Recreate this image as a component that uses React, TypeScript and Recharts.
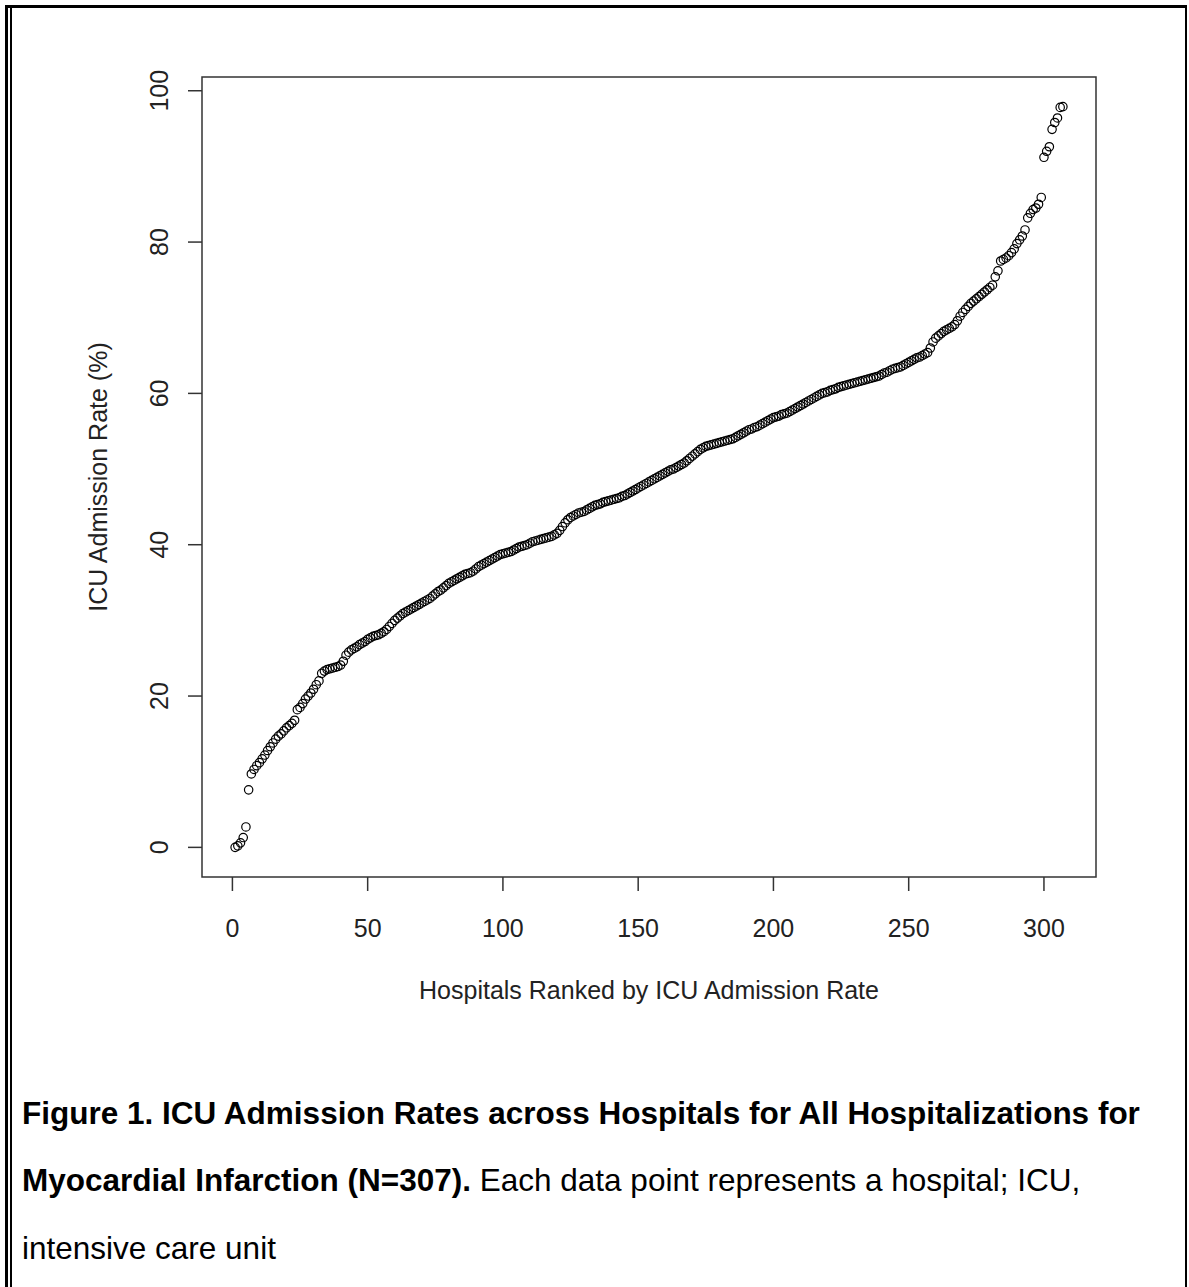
import React from 'react';
import { ScatterChart, Scatter, XAxis, YAxis, ReferenceArea } from 'recharts';

const icuRates: number[] = [
  0.0, 0.2, 0.6, 1.3, 2.7, 7.6, 9.7, 10.3, 10.8, 11.2,
  11.7, 12.2, 12.8, 13.3, 13.8, 14.3, 14.7, 15.0, 15.4, 15.8,
  16.1, 16.4, 16.8, 18.2, 18.5, 19.0, 19.6, 20.0, 20.4, 20.9,
  21.5, 22.0, 23.0, 23.3, 23.5, 23.6, 23.7, 23.8, 23.9, 24.1,
  24.6, 25.4, 25.8, 26.1, 26.3, 26.5, 26.8, 27.0, 27.2, 27.5,
  27.7, 27.9, 28.0, 28.1, 28.3, 28.5, 28.8, 29.2, 29.6, 30.0,
  30.3, 30.6, 30.9, 31.1, 31.3, 31.5, 31.7, 31.9, 32.1, 32.3,
  32.5, 32.7, 32.9, 33.2, 33.5, 33.8, 34.0, 34.3, 34.6, 34.9,
  35.1, 35.3, 35.5, 35.7, 35.9, 36.1, 36.2, 36.3, 36.5, 36.8,
  37.1, 37.3, 37.5, 37.7, 37.9, 38.1, 38.3, 38.5, 38.7, 38.8,
  38.9, 39.0, 39.1, 39.3, 39.5, 39.7, 39.8, 39.9, 40.0, 40.2,
  40.4, 40.5, 40.6, 40.7, 40.8, 40.9, 41.0, 41.1, 41.3, 41.5,
  41.9, 42.4, 42.9, 43.3, 43.6, 43.8, 44.0, 44.2, 44.3, 44.4,
  44.6, 44.8, 45.0, 45.2, 45.3, 45.4, 45.6, 45.7, 45.8, 45.9,
  46.0, 46.1, 46.2, 46.4, 46.5, 46.7, 46.9, 47.1, 47.3, 47.5,
  47.7, 47.9, 48.1, 48.3, 48.5, 48.7, 48.9, 49.1, 49.3, 49.5,
  49.7, 49.9, 50.0, 50.2, 50.4, 50.6, 50.8, 51.1, 51.4, 51.7,
  52.0, 52.3, 52.6, 52.8, 53.0, 53.1, 53.2, 53.3, 53.4, 53.5,
  53.6, 53.7, 53.8, 53.9, 54.0, 54.2, 54.4, 54.6, 54.8, 55.0,
  55.2, 55.3, 55.5, 55.6, 55.8, 56.0, 56.2, 56.4, 56.6, 56.8,
  56.9, 57.0, 57.2, 57.3, 57.4, 57.6, 57.8, 58.0, 58.2, 58.4,
  58.6, 58.8, 59.0, 59.2, 59.4, 59.6, 59.8, 60.0, 60.1, 60.2,
  60.4, 60.5, 60.6, 60.8, 60.9, 61.0, 61.1, 61.2, 61.3, 61.4,
  61.5, 61.6, 61.7, 61.8, 61.9, 62.0, 62.1, 62.2, 62.3, 62.5,
  62.7, 62.8, 63.0, 63.2, 63.3, 63.4, 63.5, 63.7, 63.9, 64.1,
  64.3, 64.5, 64.7, 64.8, 65.0, 65.2, 65.4, 66.0, 66.8, 67.3,
  67.6, 67.9, 68.2, 68.4, 68.6, 68.8, 69.1, 69.6, 70.2, 70.7,
  71.1, 71.5, 71.9, 72.2, 72.5, 72.8, 73.1, 73.4, 73.7, 74.0,
  74.3, 75.4, 76.2, 77.5, 77.7, 77.9, 78.2, 78.6, 79.1, 79.8,
  80.3, 80.8, 81.6, 83.2, 83.8, 84.3, 84.5, 85.0, 85.9, 91.2,
  92.0, 92.6, 94.9, 95.8, 96.4, 97.8, 97.9,
];

const xTicks: number[] = [0, 50, 100, 150, 200, 250, 300];
const yTicks: number[] = [0, 20, 40, 60, 80, 100];

const xTitle = 'Hospitals Ranked by ICU Admission Rate';
const yTitle = 'ICU Admission Rate (%)';
const captionBold1 = 'Figure 1. ICU Admission Rates across Hospitals for All Hospitalizations for';
const captionBold2 = 'Myocardial Infarction (N=307).';
const captionReg2 = ' Each data point represents a hospital; ICU,';
const captionReg3 = 'intensive care unit';

const data = icuRates.map((v, i) => ({ rank: i + 1, rate: v }));

const FONT = '"Liberation Sans", Arial, Helvetica, sans-serif';
const AXIS_FONT_SIZE = 25;
const TEXT_COLOR = '#222';

// R-style extended ranges (4% padding)
const X_DOMAIN: [number, number] = [-11.24, 319.24];
const Y_DOMAIN: [number, number] = [-3.916, 101.816];

const W = 1189;
const H = 1287;
const PLOT_LEFT = 202;
const PLOT_TOP = 77;
const PLOT_RIGHT = 1096;
const PLOT_BOTTOM = 877;
const Y_AXIS_W = 60;
const X_AXIS_H = 60;

const XTick = (props: any) => {
  const { x, payload } = props;
  return (
    <text x={x} y={937} textAnchor="middle" fontFamily={FONT} fontSize={AXIS_FONT_SIZE} fill={TEXT_COLOR}>
      {payload.value}
    </text>
  );
};

const YTick = (props: any) => {
  const { y, payload } = props;
  return (
    <text
      x={0}
      y={0}
      transform={`translate(168, ${y}) rotate(-90)`}
      textAnchor="middle"
      fontFamily={FONT}
      fontSize={AXIS_FONT_SIZE}
      fill={TEXT_COLOR}
    >
      {payload.value}
    </text>
  );
};

const OpenCircle = (props: any) => {
  const { cx, cy } = props;
  if (cx == null || cy == null) return null;
  return <circle cx={cx} cy={cy} r={4.2} fill="none" stroke="#000" strokeWidth={1.2} />;
};

export default function App() {
  return (
    <div style={{ position: 'absolute', left: 0, top: 0, width: W, height: H, background: '#fff', overflow: 'hidden' }}>
      {/* page frame */}
      <div style={{ position: 'absolute', left: 5, top: 5, width: 1182, height: 3, background: '#000' }} />
      <div style={{ position: 'absolute', left: 5, top: 5, width: 3, height: H - 5, background: '#000' }} />
      <div style={{ position: 'absolute', left: 10, top: 8, width: 1.5, height: H - 8, background: '#000' }} />
      <div style={{ position: 'absolute', left: 1185, top: 5, width: 2, height: H - 5, background: '#000' }} />

      <div style={{ position: 'absolute', left: 0, top: 0 }}>
        <ScatterChart
          width={W}
          height={H}
          margin={{
            top: PLOT_TOP,
            left: PLOT_LEFT - Y_AXIS_W,
            right: W - PLOT_RIGHT,
            bottom: H - PLOT_BOTTOM - X_AXIS_H,
          }}
        >
          <XAxis
            type="number"
            dataKey="rank"
            domain={X_DOMAIN}
            ticks={xTicks}
            allowDataOverflow
            axisLine={false}
            tickSize={14}
            tickLine={{ stroke: '#333', strokeWidth: 1.5 }}
            tick={<XTick />}
            height={X_AXIS_H}
            interval={0}
          />
          <YAxis
            type="number"
            dataKey="rate"
            domain={Y_DOMAIN}
            ticks={yTicks}
            allowDataOverflow
            axisLine={false}
            tickSize={14}
            tickLine={{ stroke: '#333', strokeWidth: 1.5 }}
            tick={<YTick />}
            width={Y_AXIS_W}
            interval={0}
          />
          <ReferenceArea
            x1={X_DOMAIN[0]}
            x2={X_DOMAIN[1]}
            y1={Y_DOMAIN[0]}
            y2={Y_DOMAIN[1]}
            fill="none"
            stroke="#333"
            strokeWidth={1.5}
            ifOverflow="visible"
          />
          <Scatter data={data} isAnimationActive={false} shape={<OpenCircle />} />
        </ScatterChart>
      </div>

      <svg width={W} height={H} style={{ position: 'absolute', left: 0, top: 0, pointerEvents: 'none' }}>
        <text x={(PLOT_LEFT + PLOT_RIGHT) / 2} y={999} textAnchor="middle" fontFamily={FONT} fontSize={AXIS_FONT_SIZE} fill={TEXT_COLOR}>
          {xTitle}
        </text>
        <text
          x={0}
          y={0}
          transform={`translate(107, ${(PLOT_TOP + PLOT_BOTTOM) / 2}) rotate(-90)`}
          textAnchor="middle"
          fontFamily={FONT}
          fontSize={AXIS_FONT_SIZE}
          fill={TEXT_COLOR}
        >
          {yTitle}
        </text>
        <text x={22} y={1124} fontFamily={FONT} fontSize={31.5} fill="#000" fontWeight="bold">
          {captionBold1}
        </text>
        <text x={22} y={1191} fontFamily={FONT} fontSize={31.5} fill="#000">
          <tspan fontWeight="bold">{captionBold2}</tspan>
          <tspan>{captionReg2}</tspan>
        </text>
        <text x={22} y={1259} fontFamily={FONT} fontSize={31.5} fill="#000">
          {captionReg3}
        </text>
      </svg>
    </div>
  );
}
